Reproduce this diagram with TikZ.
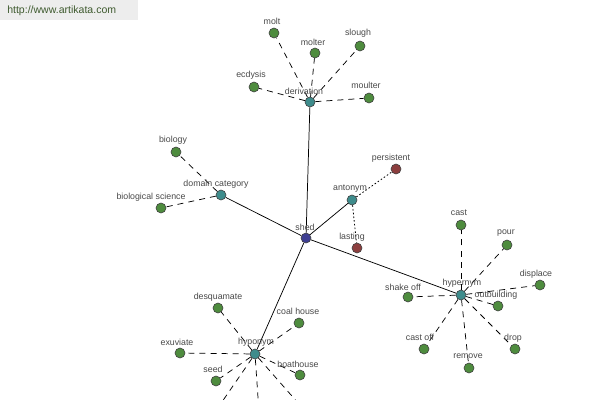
\documentclass[tikz,border=0pt]{standalone}
\usepackage{fontspec}
\setmainfont{Liberation Sans}
\definecolor{gfill}{HTML}{4E8C3E}
\definecolor{tfill}{HTML}{3E8C8C}
\definecolor{rfill}{HTML}{8C3E3E}
\definecolor{bfill}{HTML}{3E3E92}
\definecolor{txt}{HTML}{484848}
\definecolor{hdr}{HTML}{3E5A2E}
\begin{document}
\begin{tikzpicture}[x=0.75pt,y=-0.75pt,
  vtx/.style={circle,draw=black!75,line width=0.45pt,minimum size=7.5pt,inner sep=0pt},
  leaf/.style={vtx,fill=gfill},
  rel/.style={vtx,fill=tfill},
  ant/.style={vtx,fill=rfill},
  root/.style={vtx,fill=bfill},
  lbl/.style={font=\fontsize{6.6}{7}\selectfont,text=txt,inner sep=0pt},
  solidedge/.style={draw=black,line width=0.55pt},
  dashedge/.style={draw=black,line width=0.55pt,dash pattern=on 4.5pt off 3.8pt},
  dotedge/.style={draw=black,line width=0.6pt,dash pattern=on 1.2pt off 1.6pt}]
\useasboundingbox (0,0) rectangle (600,400);
\clip (0,0) rectangle (600,400);
% header
\node[fill=black!7,minimum width=103.5pt,minimum height=15pt,anchor=north west,inner sep=0pt] (hdrbox) at (0,0) {};
\node[font=\fontsize{7.9}{8}\selectfont,text=hdr,anchor=west,inner sep=0pt] (hdrtxt) at (7,11) {http://www.artikata.com};
% offscreen targets
\coordinate (off1) at (215,412);
\coordinate (off2) at (259,412);
\coordinate (off3) at (306,412);
% nodes
\node[root] (shed) at (306,238) {};
\node[rel] (deriv) at (310,102) {};
\node[leaf] (molt) at (274,33) {};
\node[leaf] (molter) at (315,53) {};
\node[leaf] (slough) at (360,46) {};
\node[leaf] (ecdysis) at (254,87) {};
\node[leaf] (moulter) at (369,98) {};
\node[rel] (domain) at (221,195) {};
\node[leaf] (biology) at (176,152) {};
\node[leaf] (bioscience) at (161,208) {};
\node[rel] (antonym) at (352,200) {};
\node[ant] (persistent) at (396,169) {};
\node[ant] (lasting) at (357,248) {};
\node[rel] (hyper) at (461,295) {};
\node[leaf] (cast) at (461,225) {};
\node[leaf] (pour) at (507,245) {};
\node[leaf] (displace) at (540,285) {};
\node[leaf] (shakeoff) at (408,297) {};
\node[leaf] (outbuilding) at (498,306) {};
\node[leaf] (castoff) at (424,349) {};
\node[leaf] (remove) at (469,368) {};
\node[leaf] (drop) at (515,349) {};
\node[rel] (hypo) at (255,354) {};
\node[leaf] (desquamate) at (218,308) {};
\node[leaf] (coalhouse) at (299,323) {};
\node[leaf] (exuviate) at (180,353) {};
\node[leaf] (seed) at (216,381) {};
\node[leaf] (boathouse) at (300,375) {};
% edges
\path[solidedge] (shed) -- (deriv);
\path[solidedge] (shed) -- (domain);
\path[solidedge] (shed) -- (antonym);
\path[solidedge] (shed) -- (hyper);
\path[solidedge] (shed) -- (hypo);
\foreach \t in {molt,molter,slough,ecdysis,moulter} \path[dashedge] (deriv) -- (\t);
\foreach \t in {biology,bioscience} \path[dashedge] (domain) -- (\t);
\foreach \t in {persistent,lasting} \path[dotedge] (antonym) -- (\t);
\foreach \t in {cast,pour,displace,shakeoff,outbuilding,castoff,remove,drop} \path[dashedge] (hyper) -- (\t);
\foreach \t in {desquamate,coalhouse,exuviate,seed,boathouse} \path[dashedge] (hypo) -- (\t);
\foreach \t in {off1,off2,off3} \path[dashedge] (hypo) -- (\t);
% labels
\node[lbl] (l-shed) at (305,227) {shed};
\node[lbl] (l-deriv) at (304,91) {derivation};
\node[lbl] (l-molt) at (272,21) {molt};
\node[lbl] (l-molter) at (313,42) {molter};
\node[lbl] (l-slough) at (358,33) {slough};
\node[lbl] (l-ecdysis) at (251,75) {ecdysis};
\node[lbl] (l-moulter) at (366,85) {moulter};
\node[lbl] (l-domain) at (216,184) {domain category};
\node[lbl] (l-biology) at (173,140) {biology};
\node[lbl] (l-bioscience) at (151,197) {biological science};
\node[lbl] (l-antonym) at (350,189) {antonym};
\node[lbl] (l-persistent) at (391,158) {persistent};
\node[lbl] (l-lasting) at (352,237) {lasting};
\node[lbl] (l-hyper) at (462,283) {hypernym};
\node[lbl] (l-cast) at (459,213) {cast};
\node[lbl] (l-pour) at (506,233) {pour};
\node[lbl] (l-displace) at (536,274) {displace};
\node[lbl] (l-shakeoff) at (403,287) {shake off};
\node[lbl] (l-outbuilding) at (496,295) {outbuilding};
\node[lbl] (l-castoff) at (420,337) {cast off};
\node[lbl] (l-remove) at (468,356) {remove};
\node[lbl] (l-drop) at (513,338) {drop};
\node[lbl] (l-hypo) at (256,342) {hyponym};
\node[lbl] (l-desquamate) at (218,297) {desquamate};
\node[lbl] (l-coalhouse) at (298,311) {coal house};
\node[lbl] (l-exuviate) at (177,342) {exuviate};
\node[lbl] (l-seed) at (213,369) {seed};
\node[lbl] (l-boathouse) at (298,364) {boathouse};
\end{tikzpicture}
\end{document}
